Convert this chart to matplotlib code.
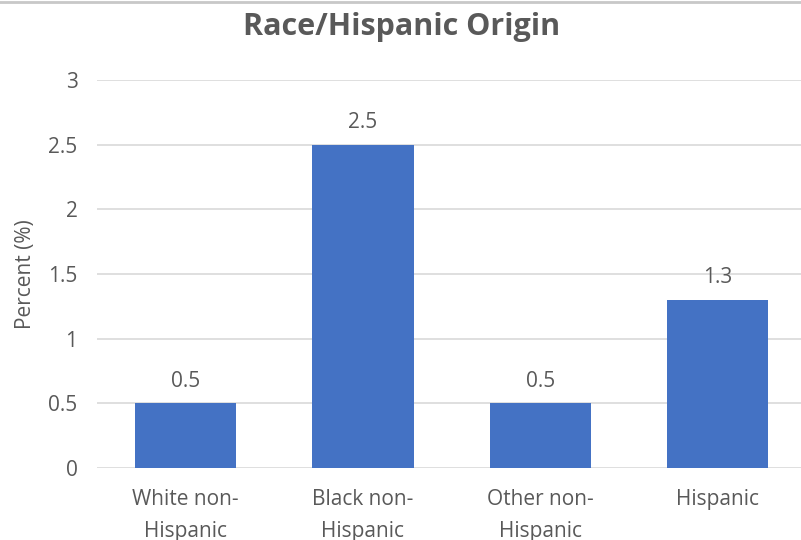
import matplotlib.pyplot as plt
from matplotlib.lines import Line2D

categories = ['White non-\nHispanic', 'Black non-\nHispanic', 'Other non-\nHispanic', 'Hispanic']
percent = [0.5, 2.5, 0.5, 1.3]
y_ticks = [0, 0.5, 1, 1.5, 2, 2.5, 3]
y_names = ['0', '0.5', '1', '1.5', '2', '2.5', '3']

text_color = '#595959'
grid_color = '#d9d9d9'
bar_color = '#4472c4'

plt.rcParams['font.family'] = ['Open Sans', 'DejaVu Sans']

fig = plt.figure(figsize=(8.01, 5.40), dpi=100)
ax = fig.add_axes([97 / 801, 1 - 468 / 540, 704 / 801, 388 / 540])

x = list(range(len(categories)))
bars = ax.bar(x, percent, width=0.57, color=bar_color, zorder=3)

for xi, v in zip(x, percent):
    ax.text(xi, v + 0.09, str(v), ha='center', va='bottom', fontsize=15, color=text_color)

ax.set_xlim(-0.5, 3.47)
ax.set_ylim(0, 3)
ax.set_yticks(y_ticks, y_names)
ax.set_xticks(x, categories)
ax.tick_params(axis='both', length=0, labelsize=15, labelcolor=text_color)
ax.tick_params(axis='y', pad=14)
ax.tick_params(axis='x', pad=15)
for lbl in ax.get_xticklabels():
    lbl.set_linespacing(1.7)

ax.grid(True, axis='y', color=grid_color, linewidth=1.2, zorder=0)
for s in ax.spines.values():
    s.set_visible(False)

ax.set_ylabel('Percent (%)', fontsize=15, color=text_color, labelpad=9)
fig.text(402 / 801, 1 - 27 / 540, 'Race/Hispanic Origin', ha='center', va='center',
         fontsize=22, fontweight='bold', color=text_color)

# thin shadow along the top edge
fig.add_artist(Line2D([0, 1], [1 - 1.5 / 540, 1 - 1.5 / 540], transform=fig.transFigure,
                      color='#c8c8c8', linewidth=2))

plt.savefig('out.png', dpi=100)
